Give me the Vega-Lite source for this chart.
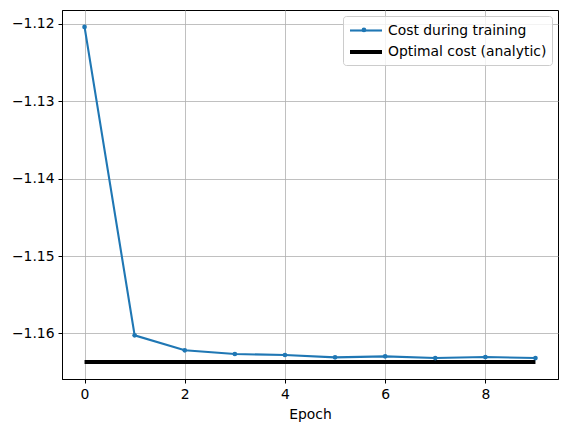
{
  "$schema": "https://vega.github.io/schema/vega-lite/v6.json",
  "width": 496,
  "height": 369,
  "autosize": {"type": "none"},
  "padding": {"left": 62, "top": 10, "right": 10, "bottom": 53},
  "background": "white",
  "config": {
    "font": "DejaVu Sans",
    "view": {"stroke": "#000000", "strokeWidth": 1},
    "axis": {
      "domainColor": "#000000",
      "tickColor": "#000000",
      "tickSize": 4,
      "labelColor": "#000000",
      "labelFontSize": 13.9,
      "titleFontSize": 13.9,
      "titleFontWeight": "normal",
      "titleColor": "#000000",
      "gridColor": "#b0b0b0",
      "gridWidth": 0.8,
      "labelPadding": 4
    }
  },
  "data": {
    "values": [
      {"epoch": 0, "cost": -1.12039, "series": "Cost during training"},
      {"epoch": 1, "cost": -1.16026, "series": "Cost during training"},
      {"epoch": 2, "cost": -1.16219, "series": "Cost during training"},
      {"epoch": 3, "cost": -1.16267, "series": "Cost during training"},
      {"epoch": 4, "cost": -1.1628, "series": "Cost during training"},
      {"epoch": 5, "cost": -1.1631, "series": "Cost during training"},
      {"epoch": 6, "cost": -1.16297, "series": "Cost during training"},
      {"epoch": 7, "cost": -1.16319, "series": "Cost during training"},
      {"epoch": 8, "cost": -1.16306, "series": "Cost during training"},
      {"epoch": 9, "cost": -1.16319, "series": "Cost during training"},
      {"epoch": 0, "cost": -1.1637, "series": "Optimal cost (analytic)"},
      {"epoch": 9, "cost": -1.1637, "series": "Optimal cost (analytic)"}
    ]
  },
  "encoding": {
    "x": {
      "field": "epoch",
      "type": "quantitative",
      "title": "Epoch",
      "scale": {"domain": [-0.45, 9.45], "nice": false, "zero": false},
      "axis": {"values": [0, 2, 4, 6, 8], "format": "d", "grid": true, "titlePadding": 7}
    },
    "y": {
      "field": "cost",
      "type": "quantitative",
      "title": null,
      "scale": {"domain": [-1.1659, -1.1182], "nice": false, "zero": false},
      "axis": {"values": [-1.16, -1.15, -1.14, -1.13, -1.12], "format": ".2f", "grid": true}
    }
  },
  "layer": [
    {
      "mark": {"type": "line", "strokeCap": "butt"},
      "encoding": {
        "color": {
          "field": "series",
          "type": "nominal",
          "scale": {"domain": ["Cost during training", "Optimal cost (analytic)"], "range": ["#1f77b4", "#000000"]},
          "legend": {
            "title": null,
            "orient": "none",
            "legendX": 281,
            "legendY": 6,
            "symbolType": "M-2,0H2",
            "symbolSize": 256,
            "symbolOffset": 8,
            "labelFontSize": 13.9,
            "labelOffset": 12,
            "labelColor": "#000000",
            "fillColor": "rgba(255,255,255,0.8)",
            "strokeColor": "#cccccc",
            "padding": 5,
            "cornerRadius": 3,
            "rowPadding": 4
          }
        },
        "strokeWidth": {
          "field": "series",
          "type": "nominal",
          "scale": {"domain": ["Cost during training", "Optimal cost (analytic)"], "range": [2.1, 4]},
          "legend": {
            "title": null,
            "orient": "none",
            "legendX": 281,
            "legendY": 6,
            "symbolType": "M-2,0H2",
            "symbolSize": 256,
            "symbolOffset": 8,
            "labelFontSize": 13.9,
            "labelOffset": 12,
            "labelColor": "#000000",
            "fillColor": "rgba(255,255,255,0.8)",
            "strokeColor": "#cccccc",
            "padding": 5,
            "cornerRadius": 3,
            "rowPadding": 4
          }
        }
      }
    },
    {
      "transform": [{"filter": "datum.series == 'Cost during training'"}],
      "mark": {"type": "point", "filled": true, "size": 22, "color": "#1f77b4", "opacity": 1},
      "encoding": {
        "shape": {
          "field": "series",
          "type": "nominal",
          "scale": {"domain": ["Cost during training"], "range": ["circle"]},
          "legend": {
            "title": null,
            "orient": "none",
            "legendX": 295,
            "legendY": 13,
            "symbolSize": 22,
            "symbolFillColor": "#1f77b4",
            "symbolStrokeWidth": 0,
            "labelFontSize": 13.9,
            "labelExpr": "' '",
            "padding": 0,
            "fillColor": null,
            "strokeColor": null
          }
        }
      }
    }
  ]
}
